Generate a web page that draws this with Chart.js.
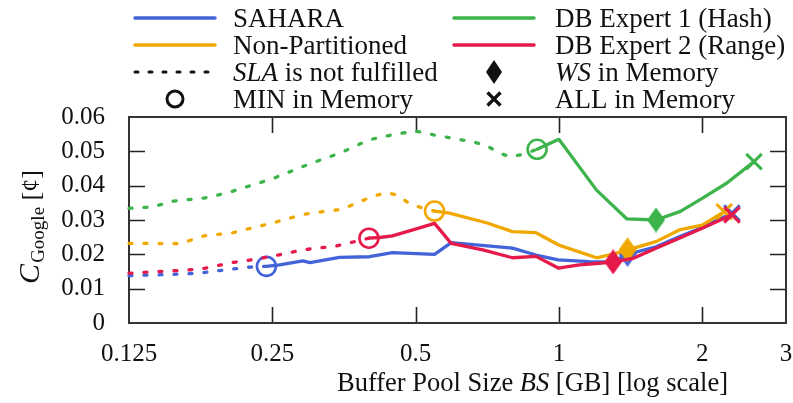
<!DOCTYPE html>
<html>
<head>
<meta charset="utf-8">
<script src="https://cdn.jsdelivr.net/npm/chart.js@4.4.1/dist/chart.umd.min.js"></script>
<style>
  html, body { margin: 0; padding: 0; background: #ffffff; }
  #wrap { position: relative; width: 793px; height: 403px; }
</style>
</head>
<body>
<div id="wrap"><canvas id="chart" width="793" height="403"></canvas></div>
<script>
// ---- data -----------------------------------------------------------------
const seriesLabels = ['SAHARA', 'Non-Partitioned', 'DB Expert 1 (Hash)', 'DB Expert 2 (Range)'];

const xTickValues = [0.125, 0.25, 0.5, 1, 2, 3];
const xTickLabels = ['0.125', '0.25', '0.5', '1', '2', '3'];
const yTickValues = [0, 0.01, 0.02, 0.03, 0.04, 0.05, 0.06];
const yTickLabels = ['0', '0.01', '0.02', '0.03', '0.04', '0.05', '0.06'];

// buffer pool size [GB] and cost per query [cent]
const saharaSize = [0.125, 0.15, 0.175, 0.2, 0.225, 0.243, 0.259, 0.29, 0.30, 0.346, 0.40, 0.447, 0.548, 0.594, 0.799, 0.895, 0.997, 1.159, 1.30, 1.394, 1.6, 1.79, 2.0, 2.31];
const saharaCost = [0.0138, 0.0141, 0.0145, 0.0155, 0.0163, 0.0165, 0.0169, 0.0181, 0.0176, 0.0191, 0.0193, 0.0205, 0.0200, 0.0234, 0.0218, 0.0198, 0.0184, 0.0179, 0.0178, 0.0200, 0.0222, 0.0251, 0.0278, 0.0320];

const nonPartSize = [0.125, 0.16, 0.18, 0.205, 0.25, 0.29, 0.31, 0.35, 0.38, 0.405, 0.434, 0.456, 0.49, 0.548, 0.589, 0.704, 0.799, 0.895, 1.0, 1.2, 1.30, 1.394, 1.6, 1.79, 2.0, 2.225];
const nonPartCost = [0.0232, 0.0231, 0.0254, 0.0262, 0.0291, 0.0316, 0.0322, 0.0331, 0.0352, 0.0368, 0.0380, 0.0373, 0.0344, 0.0326, 0.0320, 0.0292, 0.0266, 0.0263, 0.0227, 0.0190, 0.0201, 0.0213, 0.0237, 0.0271, 0.0285, 0.0324];

const hashSize = [0.125, 0.14, 0.155, 0.18, 0.2, 0.25, 0.3, 0.35, 0.4, 0.45, 0.5, 0.55, 0.65, 0.7, 0.75, 0.79, 0.84, 0.9, 1.0, 1.2, 1.39, 1.6, 1.8, 2.0, 2.25, 2.57];
const hashCost = [0.0334, 0.0338, 0.0355, 0.0364, 0.0378, 0.0420, 0.0464, 0.0497, 0.0534, 0.0549, 0.0559, 0.0547, 0.0529, 0.0519, 0.0495, 0.0484, 0.0491, 0.0506, 0.0535, 0.0387, 0.0303, 0.0300, 0.0325, 0.0363, 0.0407, 0.0470];

const rangeSize = [0.125, 0.14, 0.165, 0.18, 0.206, 0.232, 0.253, 0.29, 0.31, 0.335, 0.36, 0.399, 0.42, 0.447, 0.4935, 0.548, 0.594, 0.692, 0.799, 0.895, 0.997, 1.104, 1.216, 1.30, 1.43, 1.6, 1.79, 2.0, 2.31];
const rangeCost = [0.0145, 0.0149, 0.0154, 0.0159, 0.0176, 0.0186, 0.0196, 0.0213, 0.0218, 0.0222, 0.0232, 0.0247, 0.0249, 0.0254, 0.0271, 0.0290, 0.0232, 0.0213, 0.0190, 0.0194, 0.0160, 0.0169, 0.0174, 0.0178, 0.0188, 0.0218, 0.0247, 0.0276, 0.0315];

// buffer sizes at which MIN / WS / ALL fit into memory
const saharaMarks  = [0.243, 1.394, 2.31];
const nonPartMarks = [0.548, 1.394, 2.225];
const hashMarks    = [0.9, 1.6, 2.57];
const rangeMarks   = [0.399, 1.30, 2.31];

// ---- styling --------------------------------------------------------------
const FONT = '"Liberation Serif", "Times New Roman", serif';
const INK = '#111111';
const colors = ['#4363d8', '#f0a800', '#3cb44b', '#e6194b'];
const DOT = [3, 12];

function makeDiamond(color, w, h) {
  const c = document.createElement('canvas');
  c.width = w; c.height = h;
  const g = c.getContext('2d');
  g.fillStyle = color;
  g.beginPath();
  g.moveTo(w / 2, 0); g.lineTo(w, h / 2); g.lineTo(w / 2, h); g.lineTo(0, h / 2);
  g.closePath(); g.fill();
  return c;
}

function buildDataset(i, sizes, costs, marks, order) {
  const color = colors[i];
  const minIdx = sizes.indexOf(marks[0]);
  const wsIdx = sizes.indexOf(marks[1]);
  const allIdx = sizes.indexOf(marks[2]);
  const diamond = makeDiamond(color, 18, 25);
  return {
    label: seriesLabels[i],
    data: sizes.map((x, k) => ({ x: x, y: costs[k] })),
    borderColor: color,
    borderWidth: 3.3,
    borderCapStyle: 'round',
    borderJoinStyle: 'round',
    fill: false,
    tension: 0,
    order: order,
    clip: 20,
    segment: {
      borderDash: ctx => (ctx.p0DataIndex < minIdx ? DOT : [])
    },
    pointStyle: ctx => {
      const k = ctx.dataIndex;
      if (k === minIdx) return 'circle';
      if (k === wsIdx) return diamond;
      if (k === allIdx) return 'crossRot';
      return 'circle';
    },
    pointRadius: ctx => {
      const k = ctx.dataIndex;
      if (k === minIdx) return 9.5;
      if (k === wsIdx) return 10;
      if (k === allIdx) return 11;
      return 0;
    },
    pointBorderWidth: ctx => (ctx.dataIndex === allIdx ? 3 : 2.6),
    pointBorderColor: color,
    pointBackgroundColor: 'rgba(0,0,0,0)'
  };
}

// ---- frame with inward ticks ---------------------------------------------
const framePlugin = {
  id: 'frame',
  beforeDatasetsDraw(chart) {
    const { ctx, chartArea: a, scales } = chart;
    ctx.save();
    ctx.strokeStyle = '#222222';
    ctx.lineWidth = 1.6;
    const len = 16;
    ctx.beginPath();
    yTickValues.forEach(v => {
      const y = Math.round(scales.y.getPixelForValue(v)) + 0.5;
      if (y <= a.top + 2 || y >= a.bottom - 2) return;
      ctx.moveTo(a.left, y); ctx.lineTo(a.left + len, y);
      ctx.moveTo(a.right, y); ctx.lineTo(a.right - len, y);
    });
    xTickValues.forEach(v => {
      const x = Math.round(scales.x.getPixelForValue(v)) + 0.5;
      if (x <= a.left + 2 || x >= a.right - 2) return;
      ctx.moveTo(x, a.bottom); ctx.lineTo(x, a.bottom - len);
      ctx.moveTo(x, a.top); ctx.lineTo(x, a.top + len);
    });
    ctx.stroke();
    ctx.strokeStyle = '#333333';
    ctx.lineWidth = 2;
    ctx.strokeRect(a.left, a.top, a.right - a.left, a.bottom - a.top);
    ctx.restore();
  }
};

// draws a run of text pieces [text, italic] starting at x
function drawRuns(ctx, runs, x, y, size) {
  runs.forEach(r => {
    ctx.font = (r[1] ? 'italic ' : '') + size + 'px ' + FONT;
    ctx.fillText(r[0], x, y);
    x += ctx.measureText(r[0]).width;
  });
  return x;
}

// ---- axis titles and key --------------------------------------------------
const annotationPlugin = {
  id: 'annotations',
  afterDraw(chart) {
    const { ctx } = chart;
    ctx.save();
    ctx.fillStyle = INK;
    ctx.textBaseline = 'alphabetic';
    ctx.textAlign = 'left';

    // x axis title
    const xRuns = [['Buffer Pool Size ', false], ['BS', true], [' [GB] [log scale]', false]];
    drawRuns(ctx, xRuns, 337, 391, 26.5);

    // y axis title (rotated, with subscript)
    ctx.save();
    const cy = 227;
    ctx.translate(39, cy);
    ctx.rotate(-Math.PI / 2);
    ctx.font = 'italic 30px ' + FONT;
    const wC = ctx.measureText('C').width;
    ctx.font = '19px ' + FONT;
    const wSub = ctx.measureText('Google').width;
    ctx.font = '26px ' + FONT;
    const wRest = ctx.measureText(' [¢]').width;
    let x0 = -(wC + wSub + wRest + 1) / 2;
    ctx.font = 'italic 30px ' + FONT;
    ctx.fillText('C', x0, 0);
    x0 += wC + 1;
    ctx.font = '19px ' + FONT;
    ctx.fillText('Google', x0, 5);
    x0 += wSub;
    ctx.font = '26px ' + FONT;
    ctx.fillText(' [¢]', x0, 0);
    ctx.restore();

    // key
    const rows = [18, 45, 72, 99];
    const cols = [{ s: 135, e: 215, t: 233 }, { s: 454, e: 534, t: 555 }];
    const ds = chart.data.datasets;
    const entries = [
      { col: 0, row: 0, kind: 'line', color: ds[0].borderColor, runs: [[ds[0].label, false]] },
      { col: 0, row: 1, kind: 'line', color: ds[1].borderColor, runs: [[ds[1].label, false]] },
      { col: 0, row: 2, kind: 'dots', color: INK, runs: [['SLA', true], [' is not fulfilled', false]] },
      { col: 0, row: 3, kind: 'circle', color: INK, runs: [['MIN in Memory', false]] },
      { col: 1, row: 0, kind: 'line', color: ds[2].borderColor, runs: [[ds[2].label, false]] },
      { col: 1, row: 1, kind: 'line', color: ds[3].borderColor, runs: [[ds[3].label, false]] },
      { col: 1, row: 2, kind: 'diamond', color: INK, runs: [['WS', true], [' in Memory', false]] },
      { col: 1, row: 3, kind: 'cross', color: INK, runs: [['ALL in Memory', false]] }
    ];
    entries.forEach(en => {
      const c = cols[en.col];
      const y = rows[en.row];
      const mid = (c.s + c.e) / 2;
      ctx.save();
      ctx.strokeStyle = en.color;
      ctx.fillStyle = en.color;
      ctx.lineCap = 'round';
      if (en.kind === 'line' || en.kind === 'dots') {
        ctx.lineWidth = en.kind === 'line' ? 3.5 : 3;
        ctx.setLineDash(en.kind === 'dots' ? [3, 11] : []);
        ctx.beginPath();
        ctx.moveTo(c.s, y); ctx.lineTo(c.e, y);
        ctx.stroke();
      } else if (en.kind === 'circle') {
        ctx.lineWidth = 3;
        ctx.beginPath();
        ctx.arc(mid, y, 8, 0, Math.PI * 2);
        ctx.stroke();
      } else if (en.kind === 'diamond') {
        ctx.beginPath();
        ctx.moveTo(mid, y - 12); ctx.lineTo(mid + 8, y); ctx.lineTo(mid, y + 12); ctx.lineTo(mid - 8, y);
        ctx.closePath(); ctx.fill();
      } else if (en.kind === 'cross') {
        ctx.lineWidth = 3.2;
        ctx.lineCap = 'butt';
        ctx.beginPath();
        ctx.moveTo(mid - 6.5, y - 6.5); ctx.lineTo(mid + 6.5, y + 6.5);
        ctx.moveTo(mid + 6.5, y - 6.5); ctx.lineTo(mid - 6.5, y + 6.5);
        ctx.stroke();
      }
      ctx.restore();
      ctx.fillStyle = INK;
      drawRuns(ctx, en.runs, c.t, y + 9, 27);
    });
    ctx.restore();
  }
};

const datasets = [
  buildDataset(3, rangeSize, rangeCost, rangeMarks, 0),
  buildDataset(1, nonPartSize, nonPartCost, nonPartMarks, 1),
  buildDataset(2, hashSize, hashCost, hashMarks, 2),
  buildDataset(0, saharaSize, saharaCost, saharaMarks, 3)
];
// keep key order independent of drawing order
datasets.sort((p, q) => seriesLabels.indexOf(p.label) - seriesLabels.indexOf(q.label));

new Chart(document.getElementById('chart'), {
  type: 'line',
  data: { datasets: datasets },
  options: {
    responsive: false,
    animation: false,
    devicePixelRatio: 1,
    events: [],
    // markers must not shrink the plot box
    layout: { autoPadding: false, padding: { top: 117, right: 7, bottom: 0, left: 0 } },
    plugins: { legend: { display: false }, tooltip: { enabled: false } },
    scales: {
      x: {
        type: 'logarithmic',
        min: 0.125,
        max: 3,
        grid: { display: false, drawTicks: false },
        border: { display: false },
        afterBuildTicks: s => { s.ticks = xTickValues.map(v => ({ value: v })); },
        // fixed band height; edge labels may overhang the plot box
        afterFit: s => { s.height = 80; s.paddingLeft = 0; s.paddingRight = 0; },
        ticks: {
          autoSkip: false,
          maxRotation: 0,
          padding: 16,
          color: INK,
          font: { family: FONT, size: 25 },
          callback: v => { const k = xTickValues.indexOf(v); return k < 0 ? '' : xTickLabels[k]; }
        }
      },
      y: {
        min: 0,
        max: 0.06,
        grid: { display: false, drawTicks: false },
        border: { display: false },
        afterBuildTicks: s => { s.ticks = yTickValues.map(v => ({ value: v })); },
        afterFit: s => { s.width = 129; },
        ticks: {
          padding: 24,
          color: INK,
          font: { family: FONT, size: 25 },
          callback: v => { const k = yTickValues.findIndex(t => Math.abs(t - v) < 1e-9); return k < 0 ? '' : yTickLabels[k]; }
        }
      }
    }
  },
  plugins: [framePlugin, annotationPlugin]
});
</script>
</body>
</html>
